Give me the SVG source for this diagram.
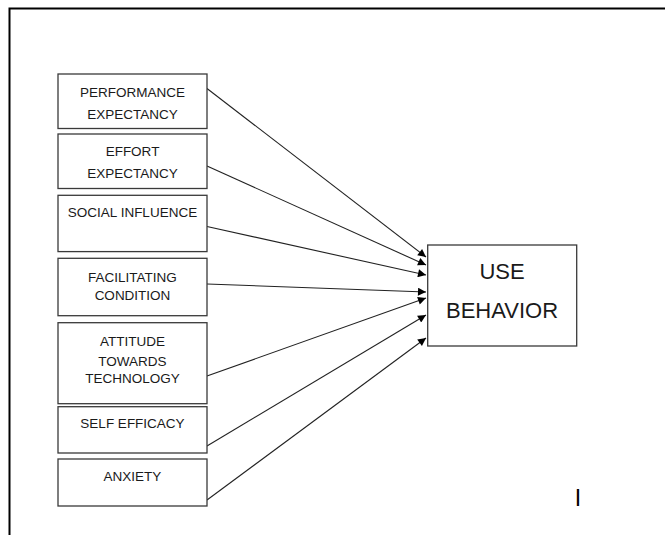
<svg xmlns="http://www.w3.org/2000/svg" width="665" height="535" viewBox="0 0 665 535">
<style>
.box{fill:#fff;stroke:#3a3a3a;stroke-width:1.3}
.t{font-family:"Liberation Sans",Arial,sans-serif;font-size:13.5px;fill:#1a1a1a;text-anchor:middle}
.big{font-family:"Liberation Sans",Arial,sans-serif;font-size:22px;fill:#1a1a1a;text-anchor:middle}
.c{stroke:#222;stroke-width:1.1;fill:none;marker-end:url(#ah)}
</style>
<defs>
<marker id="ah" viewBox="0 0 10 10" refX="10" refY="5" markerWidth="10" markerHeight="8" markerUnits="userSpaceOnUse" orient="auto">
<path d="M0,0 L10,5 L0,10 z" fill="#000"/>
</marker>
</defs>
<rect width="665" height="535" fill="#fff"/>
<g id="frame" stroke="#000" stroke-width="2" fill="none">
<path d="M9.5,535 L9.5,8.5 L665,8.5"/>
</g>
<g id="connectors">
<line class="c" x1="207" y1="88.5" x2="426" y2="257"/>
<line class="c" x1="207" y1="166" x2="426" y2="265"/>
<line class="c" x1="207" y1="226.5" x2="426" y2="275"/>
<line class="c" x1="207" y1="284" x2="426" y2="292"/>
<line class="c" x1="207" y1="376" x2="426" y2="298"/>
<line class="c" x1="207" y1="446" x2="426" y2="315"/>
<line class="c" x1="207" y1="500" x2="426" y2="338"/>
</g>
<g id="performance">
<rect class="box" x="58" y="74" width="149" height="54.5"/>
<text class="t" x="132.5" y="96.7">PERFORMANCE</text>
<text class="t" x="132.5" y="119.3">EXPECTANCY</text>
</g>
<g id="effort">
<rect class="box" x="58" y="134" width="149" height="54.5"/>
<text class="t" x="132.5" y="155.7">EFFORT</text>
<text class="t" x="132.5" y="178.3">EXPECTANCY</text>
</g>
<g id="social">
<rect class="box" x="58" y="195.3" width="149" height="56.3"/>
<text class="t" x="132.5" y="217.3">SOCIAL INFLUENCE</text>
</g>
<g id="facilitating">
<rect class="box" x="58" y="258.3" width="149" height="57.4"/>
<text class="t" x="132.5" y="281.7">FACILITATING</text>
<text class="t" x="132.5" y="300">CONDITION</text>
</g>
<g id="attitude">
<rect class="box" x="58" y="322.7" width="149" height="81"/>
<text class="t" x="132.5" y="346">ATTITUDE</text>
<text class="t" x="132.5" y="366">TOWARDS</text>
<text class="t" x="132.5" y="383.3">TECHNOLOGY</text>
</g>
<g id="selfefficacy">
<rect class="box" x="58" y="406.7" width="149" height="46.3"/>
<text class="t" x="132.5" y="427.7">SELF EFFICACY</text>
</g>
<g id="anxiety">
<rect class="box" x="58" y="459" width="149" height="47"/>
<text class="t" x="132.5" y="480.7">ANXIETY</text>
</g>
<g id="usebehavior">
<rect class="box" x="427.7" y="245" width="149" height="101"/>
<text class="big" x="502" y="279.3">USE</text>
<text class="big" x="502" y="318.3">BEHAVIOR</text>
</g>
<text x="578" y="505.5" font-family="Liberation Sans,Arial,sans-serif" font-size="23" fill="#000" text-anchor="middle">I</text>
</svg>
